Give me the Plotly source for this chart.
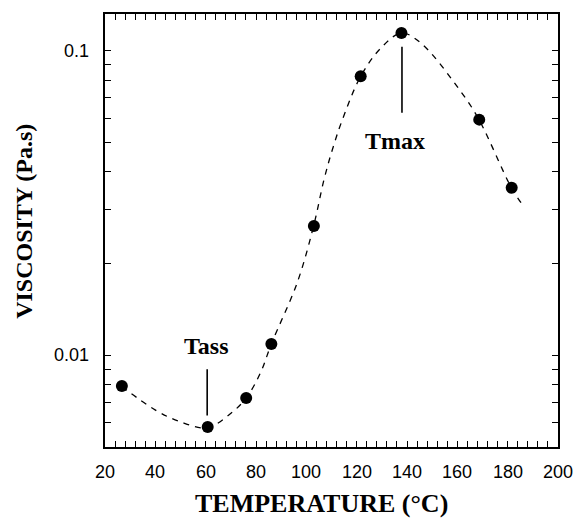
import math
import plotly.graph_objects as go

# measured points
temp_c = [26.7, 60.8, 76.1, 86.1, 103.0, 121.6, 137.8, 168.7, 181.6]
viscosity = [0.00793, 0.00582, 0.00724, 0.0109, 0.0266, 0.0824, 0.1143, 0.0594, 0.0355]

# fitted dashed curve
curve_t = [26.7, 39.9, 49.9, 60.6, 69.8, 76.1, 81.8, 86.1, 96.4, 102.9, 107.0, 110.3,
           114.3, 121.6, 129.6, 137.8, 145.5, 161.4, 168.6, 181.4, 185.3]
curve_v = [0.0079, 0.00662, 0.00605, 0.00578, 0.00643, 0.00724, 0.00877, 0.0109, 0.01734,
           0.0266, 0.0377, 0.0472, 0.0593, 0.0824, 0.102, 0.1143, 0.106, 0.0734, 0.0594,
           0.0356, 0.0317]

# annotations
mark_names = ["Tass", "Tmax"]
mark_x = [60.6, 138.0]
mark_line_top = [0.0090, 0.103]
mark_line_bottom = [0.00635, 0.0626]
label_x = [60.2, 135.1]
label_y = [0.0107, 0.0505]

# axes
x_range = [20, 200]
x_major = [20, 40, 60, 80, 100, 120, 140, 160, 180, 200]
x_minor = [v for v in range(20, 201, 4) if v not in x_major]
y_range = [0.005, 0.132]
y_major = [0.01, 0.1]
y_major_text = ["0.01", "0.1"]
y_minor = [0.005, 0.006, 0.007, 0.008, 0.009, 0.02, 0.03, 0.04, 0.05, 0.06, 0.07, 0.08, 0.09]

x_all = sorted(x_major + x_minor)
y_all = sorted(y_major + y_minor)

fig = go.Figure()
fig.add_trace(go.Scatter(
    x=curve_t, y=curve_v, mode="lines", line_shape="spline",
    line=dict(color="black", width=1.3, dash="6px,6px"), hoverinfo="skip", showlegend=False))
fig.add_trace(go.Scatter(
    x=temp_c, y=viscosity, mode="markers",
    marker=dict(color="black", size=12), showlegend=False))

for i in range(len(mark_names)):
    fig.add_trace(go.Scatter(
        x=[mark_x[i], mark_x[i]], y=[mark_line_bottom[i], mark_line_top[i]],
        mode="lines", line=dict(color="black", width=1.6), showlegend=False, hoverinfo="skip"))
    fig.add_annotation(x=label_x[i], y=math.log10(label_y[i]), text=mark_names[i], showarrow=False,
                       xanchor="center", yanchor="middle",
                       font=dict(family="Liberation Serif", size=24, color="black", weight="bold"))

tickfont = dict(family="Liberation Sans", size=18, color="black")
yr = [math.log10(y_range[0]), math.log10(y_range[1])]

fig.update_layout(
    template="simple_white",
    xaxis=dict(range=x_range, tickmode="array", tickvals=x_all, showticklabels=False,
               ticks="inside", ticklen=6, tickwidth=1.3, tickcolor="black",
               showline=True, linecolor="black", linewidth=1.5, mirror="allticks",
               showgrid=False, zeroline=False),
    yaxis=dict(type="log", range=yr, tickmode="array", tickvals=y_all, showticklabels=False,
               ticks="inside", ticklen=6, tickwidth=1.3, tickcolor="black",
               showline=True, linecolor="black", linewidth=1.5, mirror="allticks",
               showgrid=False, zeroline=False),
)

# tick labels
for v in x_major:
    fig.add_annotation(x=v, xref="x", y=0, yref="paper", yshift=-25, text=str(v),
                       showarrow=False, xanchor="center", yanchor="middle", font=tickfont)
for v, t in zip(y_major, y_major_text):
    fig.add_annotation(x=0, xref="paper", y=math.log10(v), yref="y", xshift=-14, text=t,
                       showarrow=False, xanchor="right", yanchor="middle", font=tickfont)

fig.add_annotation(text="TEMPERATURE (°C)", xref="paper", yref="paper", x=0.477, y=0,
                   yshift=-56, showarrow=False, xanchor="center", yanchor="middle",
                   font=dict(family="Liberation Serif", size=26, color="black", weight="bold"))
fig.add_annotation(text="VISCOSITY (Pa.s)", xref="paper", yref="paper", x=0, y=0.52,
                   xshift=-81, textangle=-90, showarrow=False, xanchor="center", yanchor="middle",
                   font=dict(family="Liberation Serif", size=24, color="black", weight="bold"))

fig.update_layout(width=577, height=521, margin=dict(l=105, r=19, t=14, b=74),
                  plot_bgcolor="rgba(0,0,0,0)", paper_bgcolor="white")
fig.write_html("out.html")
